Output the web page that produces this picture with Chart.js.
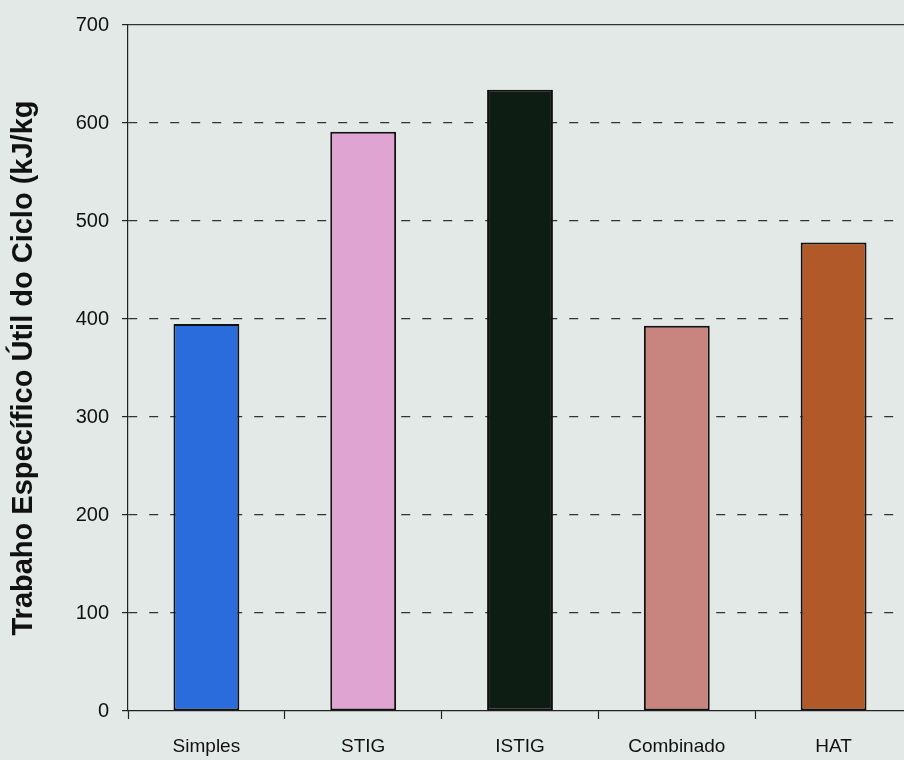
<!DOCTYPE html>
<html>
<head>
<meta charset="utf-8">
<script src="https://cdn.jsdelivr.net/npm/chart.js@4"></script>
<style>
  html, body { margin: 0; padding: 0; background: #e3e9e6; overflow: hidden; }
  #wrap { width: 904px; height: 760px; position: relative; overflow: hidden; }
</style>
</head>
<body>
<div id="wrap"><canvas id="chart" width="912" height="760"></canvas></div>
<script>
// Specific useful work per cycle configuration (kJ/kg)
const categories = ['Simples', 'STIG', 'ISTIG', 'Combinado', 'HAT'];
const workValues = [395, 591, 634, 393, 478];
const barColors = ['#2b6cdc', '#e0a4d2', '#0d1d13', '#c8847e', '#b2592a'];
const yTicks = [0, 100, 200, 300, 400, 500, 600, 700];
const yTitle = 'Trabaho Específico Útil do Ciclo (kJ/kg';

const textFont = 'Arial, "Liberation Sans", sans-serif';

new Chart(document.getElementById('chart'), {
  type: 'bar',
  data: {
    labels: categories,
    datasets: [{
      data: workValues,
      backgroundColor: barColors,
      borderColor: '#111',
      borderWidth: 2,
      borderSkipped: false,
      categoryPercentage: 1,
      barPercentage: 0.42
    }]
  },
  options: {
    responsive: false,
    animation: false,
    layout: { padding: { top: 22, right: 0, bottom: 0, left: 0 } },
    plugins: { legend: { display: false }, tooltip: { enabled: false } },
    scales: {
      x: {
        afterFit: (scale) => { scale.height = 49; },
        grid: {
          offset: true,
          drawOnChartArea: false,
          drawTicks: true,
          tickLength: 8,
          tickColor: '#222',
          tickWidth: 1.2
        },
        border: { display: true, color: '#222', width: 1.2 },
        ticks: {
          color: '#111',
          font: { family: textFont, size: 19 },
          padding: 16,
          maxRotation: 0
        }
      },
      xTop: {
        position: 'top',
        display: true,
        afterFit: (scale) => { scale.height = 0; },
        grid: { display: false },
        ticks: { display: false },
        border: { display: true, color: '#333', width: 1.3 }
      },
      y: {
        min: 0,
        max: 700,
        afterBuildTicks: (scale) => { scale.ticks = yTicks.map(v => ({ value: v })); },
        afterFit: (scale) => { scale.width = 128; },
        ticks: {
          color: '#111',
          font: { family: textFont, size: 20 },
          padding: 13
        },
        grid: {
          color: (ctx) => (ctx.tick && (ctx.tick.value === 0 || ctx.tick.value === 700)) ? 'rgba(0,0,0,0)' : '#333',
          lineWidth: 1.2,
          tickLength: 6,
          tickColor: '#222',
          tickWidth: 1.2
        },
        border: { display: true, color: '#222', width: 1.2, dash: [9, 12] },
        title: {
          display: true,
          text: yTitle,
          color: '#111',
          font: { family: textFont, size: 29, weight: 'bold' },
          padding: { top: 7, bottom: 0 }
        }
      }
    }
  }
});
</script>
</body>
</html>
